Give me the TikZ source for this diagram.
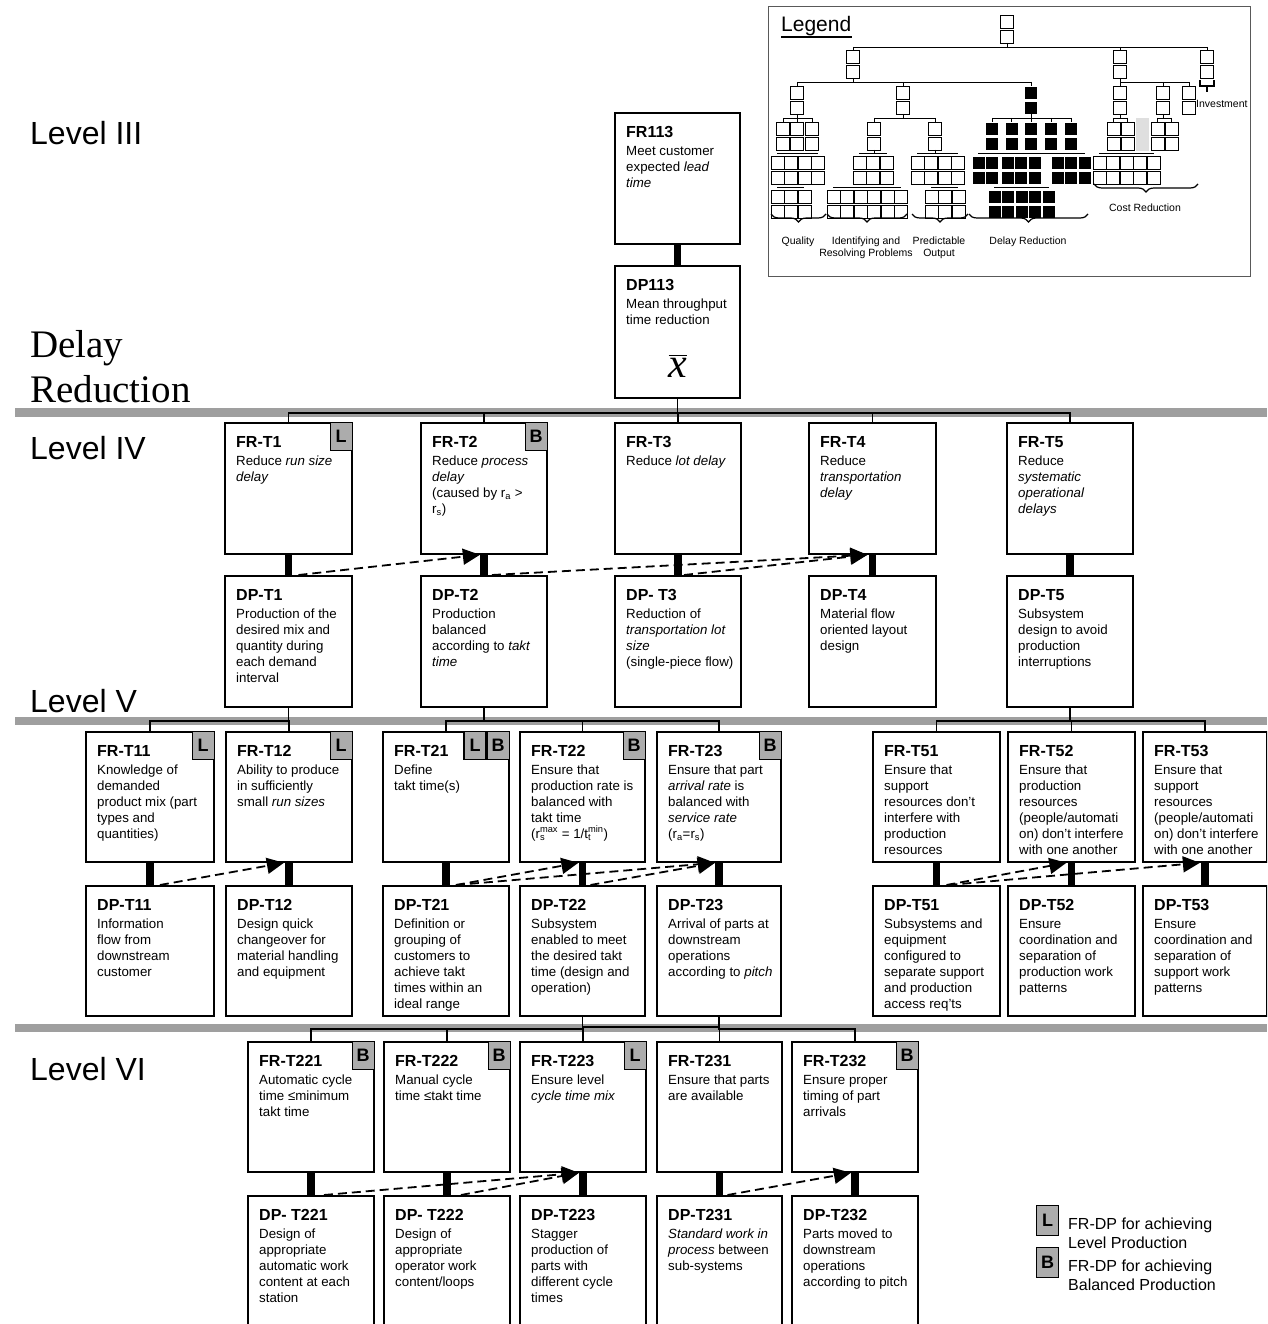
\documentclass[tikz,border=0pt]{standalone}
\usepackage{graphicx}
\usepackage{fontspec}
\setmainfont{Liberation Sans}
\newfontfamily\headserif{Liberation Serif}
\usetikzlibrary{arrows.meta,decorations.pathreplacing}

\newcommand\bodyfont{\fontsize{13.3}{16}\selectfont}
\newcommand\titlefont{\fontsize{16}{16}\selectfont\bfseries}
\newcommand\badgefont{\fontsize{18}{18}\selectfont\bfseries}

\tikzset{
  box/.style={draw, line width=1.8pt, fill=white, inner sep=0pt, anchor=north west},
  txt/.style={anchor=north west, align=left, inner sep=0pt, font=\bodyfont},
  badge/.style={draw, line width=1.2pt, fill=gray!65, minimum width=22pt, minimum height=28pt,
                inner sep=0pt, anchor=north east, font=\badgefont},
  stem/.style={line width=7.5pt},
  tree/.style={line width=1.6pt},
  link/.style={line width=1.8pt, dash pattern=on 9pt off 5pt, -{Triangle[length=17pt,width=16pt]}},
  bar/.style={fill=gray!75},
  levellabel/.style={anchor=base west, inner sep=0pt, font=\fontsize{32}{32}\selectfont},
  lcell/.style={draw, line width=0.8pt, fill=white},
  lblack/.style={draw=white, line width=0.5pt, fill=black},
  ltree/.style={line width=0.8pt},
  llabel/.style={font=\fontsize{10.5}{12}\selectfont, align=center, inner sep=0pt},
  lbrace/.style={decorate, decoration={brace, mirror, amplitude=8pt}, line width=1.2pt},
}

% FR/DP box: name, x, y (top left), width, height, title, body lines
\newcommand\fdbox[7]{%
  \node[box, minimum width=#4, minimum height=#5] (#1) at (#2,#3) {};
  \node[txt] (#1t) at ([shift={(12,11)}]#1.north west) {\rule{0pt}{14pt}{\titlefont #6}\\[2pt]#7};
}
% small legend square pair: style, centre x, top y
\newcommand\lpairsq[3]{%
  \draw[#1] ({#2-6.5},#3) rectangle ++(13,13);
  \draw[#1] ({#2-6.5},{#3+15}) rectangle ++(13,13);
}
% small legend grid: style, x0, y0, columns, rows
\newcommand\lgridcells[5]{%
  \foreach \ci in {1,...,#4}{\foreach \ri in {1,...,#5}{%
    \draw[#1] ({#2+(\ci-1)*13.5},{#3+(\ri-1)*15}) rectangle ++(13,13);}}
}

\begin{document}
\begin{tikzpicture}[x=1pt,y=-1pt]
\useasboundingbox (0,0) rectangle (1267,1324);
\clip (0,0) rectangle (1267,1324);
\fill[white] (0,0) rectangle (1267,1324);

% ---------------- level separators ----------------
\fill[bar] (15,408) rectangle (1267,417);
\fill[bar] (15,717) rectangle (1267,725);
\fill[bar] (15,1024) rectangle (1267,1032);

% ---------------- level captions ----------------
\node[levellabel] (l3) at (30,145) {Level III};
\node[levellabel] (l4) at (30,459) {Level IV};
\node[levellabel] (l5) at (30,712) {Level V};
\node[levellabel] (l6) at (30,1080) {Level VI};
\node[anchor=base west, inner sep=0pt, font=\headserif\fontsize{39}{39}\selectfont] (dr1) at (30,357) {Delay};
\node[anchor=base west, inner sep=0pt, font=\headserif\fontsize{39}{39}\selectfont] (dr2) at (30,402) {Reduction};

% ---------------- Level III ----------------
\fdbox{fr113}{614}{112}{125}{131}{FR113}{Meet customer\\expected \textit{lead}\\\textit{time}}
\fdbox{dp113}{614}{265}{125}{132}{DP113}{Mean throughput\\time reduction}
\node (xbar) at (678,366) {\scalebox{1.75}{\fontsize{24}{24}\selectfont$\overline{\mbox{\headserif\itshape x}}$}};
\draw[stem] (fr113.south) -- (dp113.north);

% ---------------- Level IV ----------------
\fdbox{frT1}{224}{422}{127}{131}{FR-T1}{Reduce \textit{run size}\\\textit{delay}}
\fdbox{frT2}{420}{422}{126}{131}{FR-T2}{Reduce \textit{process}\\\textit{delay}\\(caused by r\textsubscript{a} >\\r\textsubscript{s})}
\fdbox{frT3}{614}{422}{126}{131}{FR-T3}{Reduce \textit{lot delay}}
\fdbox{frT4}{808}{422}{127}{131}{FR-T4}{Reduce\\\textit{transportation}\\\textit{delay}}
\fdbox{frT5}{1006}{422}{126}{131}{FR-T5}{Reduce\\\textit{systematic}\\\textit{operational}\\\textit{delays}}
\node[badge] (bT1) at (frT1.north east) {L};
\node[badge] (bT2) at (frT2.north east) {B};

\fdbox{dpT1}{224}{575}{127}{131}{DP-T1}{Production of the\\desired mix and\\quantity during\\each demand\\interval}
\fdbox{dpT2}{420}{575}{126}{131}{DP-T2}{Production\\balanced\\according to \textit{takt}\\\textit{time}}
\fdbox{dpT3}{614}{575}{126}{131}{DP- T3}{Reduction of\\\textit{transportation lot}\\\textit{size}\\(single-piece flow)}
\fdbox{dpT4}{808}{575}{127}{131}{DP-T4}{Material flow\\oriented layout\\design}
\fdbox{dpT5}{1006}{575}{126}{131}{DP-T5}{Subsystem\\design to avoid\\production\\interruptions}

\foreach \n in {T1,T2,T3,T4,T5}{\draw[stem] (fr\n.south) -- (dp\n.north);}
\foreach \n in {T1,T2,T3,T4,T5}{\draw[tree] (dp113.south) -- ++(0,14) -| (fr\n.north);}

\draw[link] ([xshift=10]dpT1.north) -- ([xshift=-4]frT2.south);
\draw[link] ([xshift=8]dpT2.north) -- ([xshift=-5]frT4.south);
\draw[link] ([xshift=6]dpT3.north) -- ([xshift=-5]frT4.south);

% ---------------- Level V ----------------
\fdbox{frT11}{85}{731}{128}{130}{FR-T11}{Knowledge of\\demanded\\product mix (part\\types and\\quantities)}
\fdbox{frT12}{225}{731}{126}{130}{FR-T12}{Ability to produce\\in sufficiently\\small \textit{run sizes}}
\fdbox{frT21}{382}{731}{126}{130}{FR-T21}{Define\\takt time(s)}
\fdbox{frT22}{519}{731}{125}{130}{FR-T22}{Ensure that\\production rate is\\balanced with\\takt time\\(r\rlap{\textsubscript{s}}\textsuperscript{max} = 1/t\rlap{\textsubscript{t}}\textsuperscript{min})}
\fdbox{frT23}{656}{731}{124}{130}{FR-T23}{Ensure that part\\\textit{arrival rate} is\\balanced with\\\textit{service rate}\\(r\textsubscript{a}=r\textsubscript{s})}
\fdbox{frT51}{872}{731}{127}{130}{FR-T51}{Ensure that\\support\\resources don't\\interfere with\\production\\resources}
\fdbox{frT52}{1007}{731}{127}{130}{FR-T52}{Ensure that\\production\\resources\\(people/automati\\on) don't interfere\\with one another}
\fdbox{frT53}{1142}{731}{124}{130}{FR-T53}{Ensure that\\support\\resources\\(people/automati\\on) don't interfere\\with one another}
\node[badge] (bT11) at (frT11.north east) {L};
\node[badge] (bT12) at (frT12.north east) {L};
\node[badge] (bT21b) at (frT21.north east) {B};
\node[badge] (bT21l) at (bT21b.north west) {L};
\node[badge] (bT22) at (frT22.north east) {B};
\node[badge] (bT23) at (frT23.north east) {B};

\fdbox{dpT11}{85}{885}{128}{130}{DP-T11}{Information\\flow from\\downstream\\customer}
\fdbox{dpT12}{225}{885}{126}{130}{DP-T12}{Design quick\\changeover for\\material handling\\and equipment}
\fdbox{dpT21}{382}{885}{126}{130}{DP-T21}{Definition or\\grouping of\\customers to\\achieve takt\\times within an\\ideal range}
\fdbox{dpT22}{519}{885}{125}{130}{DP-T22}{Subsystem\\enabled to meet\\the desired takt\\time (design and\\operation)}
\fdbox{dpT23}{656}{885}{124}{130}{DP-T23}{Arrival of parts at\\downstream\\operations\\according to \textit{pitch}}
\fdbox{dpT51}{872}{885}{127}{130}{DP-T51}{Subsystems and\\equipment\\configured to\\separate support\\and production\\access req'ts}
\fdbox{dpT52}{1007}{885}{127}{130}{DP-T52}{Ensure\\coordination and\\separation of\\production work\\patterns}
\fdbox{dpT53}{1142}{885}{124}{130}{DP-T53}{Ensure\\coordination and\\separation of\\support work\\patterns}

\foreach \n in {T11,T12,T21,T22,T23,T51,T52,T53}{\draw[stem] (fr\n.south) -- (dp\n.north);}
\foreach \n in {T11,T12}{\draw[tree] (dpT1.south) -- ++(0,13) -| (fr\n.north);}
\foreach \n in {T21,T22,T23}{\draw[tree] (dpT2.south) -- ++(0,13) -| (fr\n.north);}
\foreach \n in {T51,T52,T53}{\draw[tree] (dpT5.south) -- ++(0,13) -| (fr\n.north);}

\draw[link] ([xshift=10]dpT11.north) -- ([xshift=-5]frT12.south);
\draw[link] ([xshift=10]dpT21.north) -- ([xshift=-4]frT22.south);
\draw[link] ([xshift=10]dpT21.north) -- ([xshift=-4]frT23.south);
\draw[link] ([xshift=8]dpT22.north) -- ([xshift=-4]frT23.south);
\draw[link] ([xshift=10]dpT51.north) -- ([xshift=-5]frT52.south);
\draw[link] ([xshift=12]dpT51.north) -- ([xshift=-5]frT53.south);

% ---------------- Level VI ----------------
\fdbox{frT221}{247}{1041}{126}{130}{FR-T221}{Automatic cycle\\time ≤minimum\\takt time}
\fdbox{frT222}{383}{1041}{126}{130}{FR-T222}{Manual cycle\\time ≤takt time}
\fdbox{frT223}{519}{1041}{126}{130}{FR-T223}{Ensure level\\\textit{cycle time mix}}
\fdbox{frT231}{656}{1041}{125}{130}{FR-T231}{Ensure that parts\\are available}
\fdbox{frT232}{791}{1041}{126}{130}{FR-T232}{Ensure proper\\timing of part\\arrivals}
\node[badge] (bT221) at (frT221.north east) {B};
\node[badge] (bT222) at (frT222.north east) {B};
\node[badge] (bT223) at (frT223.north east) {L};
\node[badge] (bT232) at (frT232.north east) {B};

\fdbox{dpT221}{247}{1195}{126}{145}{DP- T221}{Design of\\appropriate\\automatic work\\content at each\\station}
\fdbox{dpT222}{383}{1195}{126}{145}{DP- T222}{Design of\\appropriate\\operator work\\content/loops}
\fdbox{dpT223}{519}{1195}{126}{145}{DP-T223}{Stagger\\production of\\parts with\\different cycle\\times}
\fdbox{dpT231}{656}{1195}{125}{145}{DP-T231}{\textit{Standard work in}\\\textit{process} between\\sub-systems}
\fdbox{dpT232}{791}{1195}{126}{145}{DP-T232}{Parts moved to\\downstream\\operations\\according to pitch}

\foreach \n in {T221,T222,T223,T231,T232}{\draw[stem] (fr\n.south) -- (dp\n.north);}
\foreach \n in {T221,T222,T223}{\draw[tree] (dpT22.south) -- ++(0,12) -| (fr\n.north);}
\foreach \n in {T231,T232}{\draw[tree] (dpT23.south) -- ++(0,12) -| (fr\n.north);}
\draw[tree] ([yshift=14]frT223.north) -- ([yshift=14]frT231.north);

\draw[link] ([xshift=13]dpT221.north) -- ([xshift=-4]frT223.south);
\draw[link] ([xshift=14]dpT222.north) -- ([xshift=-4]frT223.south);
\draw[link] ([xshift=8]dpT231.north) -- ([xshift=-4]frT232.south);

% ---------------- key to the badges ----------------
\node[badge, anchor=north west, minimum height=30pt] (keyL) at (1036,1205) {L};
\node[badge, anchor=north west, minimum height=30pt] (keyB) at (1036,1247) {B};
\node[anchor=base west, align=left, inner sep=0pt, font=\fontsize{16}{19.5}\selectfont] (keyLt) at (1068,1248.5) {FR-DP for achieving\\Level Production};
\node[anchor=base west, align=left, inner sep=0pt, font=\fontsize{16}{19.5}\selectfont] (keyBt) at (1068,1290.5) {FR-DP for achieving\\Balanced Production};

% ---------------- overview legend ----------------
\draw[gray!70!black, line width=1pt, fill=white] (768,7) rectangle (1250,276);
\node[anchor=base west, inner sep=0pt, font=\fontsize{21}{21}\selectfont] (legt) at (781,32) {Legend};
\draw[line width=1.1pt] (781,37) -- (852,37);

% top of the overview tree
\lpairsq{lcell}{1007}{15}
\draw[ltree] (1007,43) -- (1007,47) (853,47) -- (1207,47);
\foreach \c in {853,1120,1207}{\draw[ltree] (\c,47) -- (\c,50); \lpairsq{lcell}{\c}{50}}
% second branching
\draw[ltree] (853,78) -- (853,82) (797,82) -- (1031,82);
\foreach \c in {797,903,1031}{\draw[ltree] (\c,82) -- (\c,86);}
\lpairsq{lcell}{797}{86}
\lpairsq{lcell}{903}{86}
\lpairsq{lblack}{1031}{86}
\draw[ltree] (1120,78) -- (1120,82) (1120,82) -- (1189,82);
\foreach \c in {1120,1163,1189}{\draw[ltree] (\c,82) -- (\c,86); \lpairsq{lcell}{\c}{86}}
% investment bracket
\draw[ltree, line width=1.1pt] (1200,80) -- (1200,86) -- (1214,86) -- (1214,80) (1207,86) -- (1207,92);
\node[llabel, anchor=west] (linv) at (1196,104) {Investment};

% quality branch
\draw[ltree] (797,114) -- (797,118) (783,118) -- (812,118);
\foreach \c in {783,797,812}{\draw[ltree] (\c,118) -- (\c,122); \lpairsq{lcell}{\c}{122}}
\draw[ltree] (777,153) -- (818,153);
\lgridcells{lcell}{771}{156}{4}{2}
\draw[ltree] (777,187) -- (804,187);
\lgridcells{lcell}{771}{190}{3}{2}

% identifying and resolving problems branch
\draw[ltree] (903,114) -- (903,118) (874,118) -- (935,118);
\foreach \c in {874,935}{\draw[ltree] (\c,118) -- (\c,122); \lpairsq{lcell}{\c}{122}}
\draw[ltree] (859,153) -- (887,153) (874,150) -- (874,153);
\lgridcells{lcell}{853}{156}{3}{2}
\draw[ltree] (833,187) -- (901,187);
\lgridcells{lcell}{827}{190}{6}{2}
% predictable output branch
\draw[ltree] (917,153) -- (958,153) (935,150) -- (935,153);
\lgridcells{lcell}{911}{156}{4}{2}
\draw[ltree] (931,187) -- (958,187);
\lgridcells{lcell}{925}{190}{3}{2}

% delay reduction branch
\draw[ltree] (1031,114) -- (1031,118) (992,118) -- (1071,118);
\foreach \c in {992,1011.5,1031,1051,1071}{\draw[ltree] (\c,118) -- (\c,122); \lpairsq{lblack}{\c}{122}}
\draw[ltree] (978,153) -- (1085,153);
\lgridcells{lblack}{972}{156}{2}{2}
\lgridcells{lblack}{1001}{156}{3}{2}
\lgridcells{lblack}{1051}{156}{3}{2}
\draw[ltree] (994,187) -- (1049,187);
\lgridcells{lblack}{988}{190}{5}{2}

% cost reduction branch
\fill[gray!25] (1136,118) rectangle (1149,151);
\draw[ltree] (1120,114) -- (1120,118) (1113.5,118) -- (1127.5,118);
\foreach \c in {1113.5,1127.5}{\draw[ltree] (\c,118) -- (\c,122); \lpairsq{lcell}{\c}{122}}
\draw[ltree] (1163,114) -- (1163,118) (1157.5,118) -- (1171.5,118);
\foreach \c in {1157.5,1171.5}{\draw[ltree] (\c,118) -- (\c,122); \lpairsq{lcell}{\c}{122}}
\draw[ltree] (1099,153) -- (1154,153);
\lgridcells{lcell}{1093}{156}{5}{2}

% braces and group names
\draw[lbrace] (771,214) -- (826,214);
\draw[lbrace] (827,214) -- (907,214);
\draw[lbrace] (912,214) -- (968,214);
\draw[lbrace] (969,214) -- (1088,214);
\draw[lbrace] (1094,184) -- (1198,184);
\node[llabel] (lq) at (798,242) {Quality};
\node[llabel] (li) at (866,248) {Identifying and\\Resolving Problems};
\node[llabel] (lp) at (939,248) {Predictable\\Output};
\node[llabel] (ld) at (1028,242) {Delay Reduction};
\node[llabel] (lc) at (1145,208) {Cost Reduction};
\end{tikzpicture}
\end{document}
